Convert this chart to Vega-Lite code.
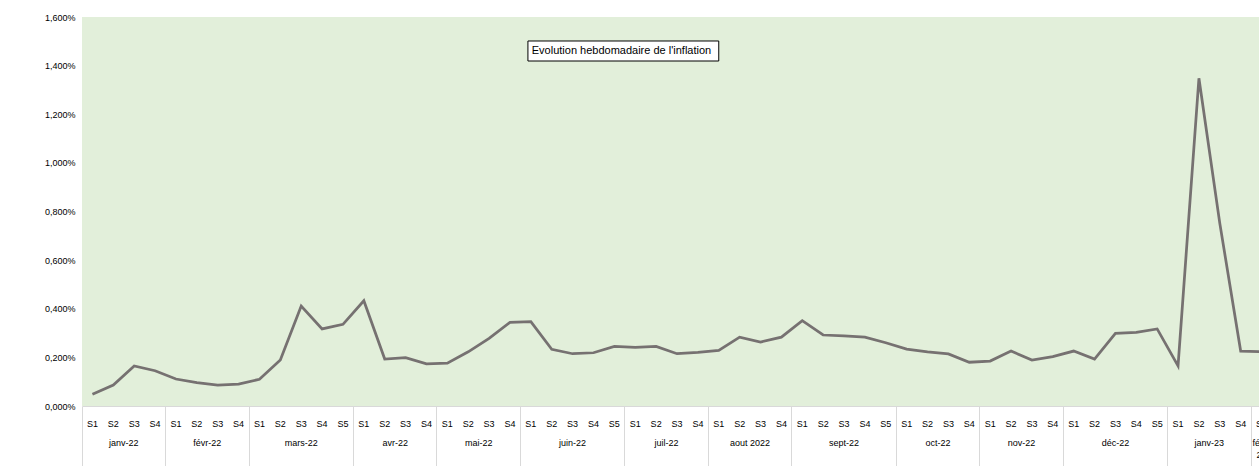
{
  "$schema": "https://vega.github.io/schema/vega-lite/v6.json",
  "autosize": {"type": "none"},
  "padding": {"left": 82, "top": 17, "right": 0, "bottom": 60},
  "width": 1177,
  "height": 389,
  "background": "white",
  "config": {
    "view": {"fill": "#E2EFDA", "stroke": null},
    "font": "Liberation Sans",
    "locale": {"number": {"decimal": ",", "thousands": " ", "grouping": [3], "currency": ["", " €"]}},
    "axis": {"labelFont": "Liberation Sans", "labelFontSize": 9, "labelColor": "#000000", "grid": false, "title": null}
  },
  "datasets": {
    "inflation": [
      {"mois": "janv-22", "sem": "S1", "val": 0.00048},
      {"mois": "janv-22", "sem": "S2", "val": 0.00086},
      {"mois": "janv-22", "sem": "S3", "val": 0.00165},
      {"mois": "janv-22", "sem": "S4", "val": 0.00145},
      {"mois": "févr-22", "sem": "S1", "val": 0.00111},
      {"mois": "févr-22", "sem": "S2", "val": 0.00096},
      {"mois": "févr-22", "sem": "S3", "val": 0.00086},
      {"mois": "févr-22", "sem": "S4", "val": 0.00090},
      {"mois": "mars-22", "sem": "S1", "val": 0.00110},
      {"mois": "mars-22", "sem": "S2", "val": 0.00189},
      {"mois": "mars-22", "sem": "S3", "val": 0.00411},
      {"mois": "mars-22", "sem": "S4", "val": 0.00317},
      {"mois": "mars-22", "sem": "S5", "val": 0.00336},
      {"mois": "avr-22", "sem": "S1", "val": 0.00433},
      {"mois": "avr-22", "sem": "S2", "val": 0.00193},
      {"mois": "avr-22", "sem": "S3", "val": 0.00199},
      {"mois": "avr-22", "sem": "S4", "val": 0.00173},
      {"mois": "mai-22", "sem": "S1", "val": 0.00176},
      {"mois": "mai-22", "sem": "S2", "val": 0.00223},
      {"mois": "mai-22", "sem": "S3", "val": 0.00278},
      {"mois": "mai-22", "sem": "S4", "val": 0.00344},
      {"mois": "juin-22", "sem": "S1", "val": 0.00347},
      {"mois": "juin-22", "sem": "S2", "val": 0.00233},
      {"mois": "juin-22", "sem": "S3", "val": 0.00215},
      {"mois": "juin-22", "sem": "S4", "val": 0.00219},
      {"mois": "juin-22", "sem": "S5", "val": 0.00245},
      {"mois": "juil-22", "sem": "S1", "val": 0.00241},
      {"mois": "juil-22", "sem": "S2", "val": 0.00245},
      {"mois": "juil-22", "sem": "S3", "val": 0.00215},
      {"mois": "juil-22", "sem": "S4", "val": 0.00221},
      {"mois": "aout 2022", "sem": "S1", "val": 0.00229},
      {"mois": "aout 2022", "sem": "S2", "val": 0.00283},
      {"mois": "aout 2022", "sem": "S3", "val": 0.00263},
      {"mois": "aout 2022", "sem": "S4", "val": 0.00283},
      {"mois": "sept-22", "sem": "S1", "val": 0.00351},
      {"mois": "sept-22", "sem": "S2", "val": 0.00292},
      {"mois": "sept-22", "sem": "S3", "val": 0.00288},
      {"mois": "sept-22", "sem": "S4", "val": 0.00283},
      {"mois": "sept-22", "sem": "S5", "val": 0.00260},
      {"mois": "oct-22", "sem": "S1", "val": 0.00234},
      {"mois": "oct-22", "sem": "S2", "val": 0.00223},
      {"mois": "oct-22", "sem": "S3", "val": 0.00214},
      {"mois": "oct-22", "sem": "S4", "val": 0.00180},
      {"mois": "nov-22", "sem": "S1", "val": 0.00185},
      {"mois": "nov-22", "sem": "S2", "val": 0.00226},
      {"mois": "nov-22", "sem": "S3", "val": 0.00189},
      {"mois": "nov-22", "sem": "S4", "val": 0.00203},
      {"mois": "déc-22", "sem": "S1", "val": 0.00226},
      {"mois": "déc-22", "sem": "S2", "val": 0.00193},
      {"mois": "déc-22", "sem": "S3", "val": 0.00299},
      {"mois": "déc-22", "sem": "S4", "val": 0.00303},
      {"mois": "déc-22", "sem": "S5", "val": 0.00317},
      {"mois": "janv-23", "sem": "S1", "val": 0.00165},
      {"mois": "janv-23", "sem": "S2", "val": 0.01348},
      {"mois": "janv-23", "sem": "S3", "val": 0.00751},
      {"mois": "janv-23", "sem": "S4", "val": 0.00226},
      {"mois": "févr-23", "sem": "S1", "val": 0.00223}
    ],
    "titre": [{"titre": "Evolution hebdomadaire de l'inflation"}]
  },
  "layer": [
    {
      "data": {"name": "inflation"},
      "transform": [{"calculate": "datum.mois + '|' + datum.sem", "as": "cle"}],
      "layer": [
        {
          "mark": {"type": "line", "color": "#767171", "strokeWidth": 2.75, "clip": true},
          "encoding": {
            "x": {"field": "cle", "type": "ordinal", "sort": null,
              "scale": {"type": "band", "paddingInner": 0, "paddingOuter": 0, "range": [0, 1190]},
              "axis": {"orient": "bottom", "labelExpr": "split(datum.value, '|')[1]", "labelAngle": 0, "ticks": false, "domain": true, "domainColor": "#D9D9D9", "labelPadding": 13, "labelOverlap": false, "labelBound": false}
            },
            "y": {
              "field": "val", "type": "quantitative",
              "scale": {"domain": [0, 0.016], "nice": false, "zero": true},
              "axis": {"values": [0, 0.002, 0.004, 0.006, 0.008, 0.01, 0.012, 0.014, 0.016], "format": ".3%", "ticks": false, "domain": false, "labelPadding": 7, "title": null}
            }
          }
        },
        {
          "mark": {"type": "line", "strokeOpacity": 0},
          "encoding": {
            "x": {"field": "cle", "type": "ordinal", "sort": null,
              "axis": {
                "orient": "bottom",
                "values": ["janv-22|S3", "févr-22|S3", "mars-22|S3", "avr-22|S3", "mai-22|S3", "juin-22|S3", "juil-22|S3", "aout 2022|S3", "sept-22|S3", "oct-22|S3", "nov-22|S3", "déc-22|S3", "janv-23|S3", "févr-23|S1"],
                "labelExpr": "split(datum.value, '|')[0] == 'févr-23' ? ['févr-', '23'] : split(datum.value, '|')[0]",
                "labelOffset": {"condition": {"test": "indexof(['mars-22|S3', 'juin-22|S3', 'sept-22|S3', 'déc-22|S3', 'févr-23|S1'], datum.value) >= 0", "value": 0}, "value": -10.44},
                "labelAngle": 0, "ticks": false, "domain": false, "labelPadding": 32, "labelOverlap": false, "labelLineHeight": 12
              }
            },
            "y": {"field": "val", "type": "quantitative"}
          }
        },
        {
          "mark": {"type": "line", "strokeOpacity": 0},
          "encoding": {
            "x": {"field": "cle", "type": "ordinal", "sort": null,
              "axis": {
                "orient": "bottom",
                "values": ["janv-22|S1", "févr-22|S1", "mars-22|S1", "avr-22|S1", "mai-22|S1", "juin-22|S1", "juil-22|S1", "aout 2022|S1", "sept-22|S1", "oct-22|S1", "nov-22|S1", "déc-22|S1", "janv-23|S1", "févr-23|S1"],
                "bandPosition": 0, "tickSize": 60, "tickColor": "#D9D9D9", "tickWidth": 1, "labels": false, "domain": false
              }
            },
            "y": {"field": "val", "type": "quantitative"}
          }
        }
      ],
      "resolve": {"axis": {"x": "independent"}}
    },
    {
      "data": {"name": "titre"},
      "mark": {"type": "rect", "fill": "white", "stroke": "#000000", "strokeWidth": 1},
      "encoding": {
        "x": {"datum": "juin-22|S1", "bandPosition": 0.36, "axis": null},
        "x2": {"datum": "aout 2022|S1"},
        "y": {"datum": 0.015013},
        "y2": {"datum": 0.01419}
      }
    },
    {
      "data": {"name": "titre"},
      "mark": {"type": "text", "fontSize": 11, "color": "#000000", "font": "Liberation Sans", "baseline": "middle", "align": "center"},
      "encoding": {
        "x": {"datum": "juin-22|S5", "bandPosition": 0.84, "axis": null},
        "y": {"datum": 0.014602},
        "text": {"field": "titre"}
      }
    }
  ],
  "resolve": {"axis": {"x": "independent"}}
}
